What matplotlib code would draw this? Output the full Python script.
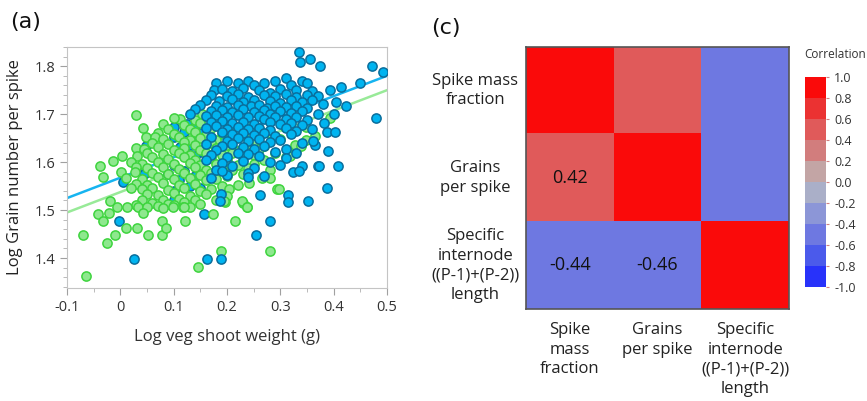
import matplotlib
matplotlib.use('Agg')
import matplotlib.pyplot as plt
import numpy as np
from matplotlib.colors import ListedColormap, BoundaryNorm
from matplotlib.ticker import MultipleLocator
import matplotlib.cm as cm

plt.rcParams['font.family'] = ['Open Sans', 'DejaVu Sans']

# (a) scatter: log veg shoot weight vs log grain number per spike
blue_pts = [
    (0.18, 1.765), (0.20, 1.77), (0.22, 1.765), (0.24, 1.77), (0.25, 1.76), (0.27, 1.765), (0.29, 1.77),
    (0.31, 1.775), (0.32, 1.76), (0.34, 1.77), (0.35, 1.765),
    (0.175, 1.75), (0.19, 1.752), (0.21, 1.748), (0.23, 1.755), (0.26, 1.75), (0.28, 1.745), (0.30, 1.752),
    (0.33, 1.75), (0.36, 1.748),
    (0.17, 1.74), (0.20, 1.738), (0.22, 1.742), (0.24, 1.735), (0.27, 1.74), (0.29, 1.737), (0.31, 1.742),
    (0.33, 1.735), (0.35, 1.74), (0.37, 1.738),
    (0.16, 1.73), (0.185, 1.728), (0.21, 1.732), (0.23, 1.725), (0.25, 1.73), (0.28, 1.728), (0.30, 1.724),
    (0.32, 1.73), (0.34, 1.726), (0.36, 1.73), (0.38, 1.722),
    (0.15, 1.72), (0.18, 1.718), (0.20, 1.715), (0.22, 1.72), (0.245, 1.716), (0.26, 1.72), (0.275, 1.712),
    (0.29, 1.718), (0.31, 1.714), (0.33, 1.718), (0.35, 1.712),
    (0.14, 1.71), (0.17, 1.706), (0.19, 1.708), (0.21, 1.704), (0.23, 1.71), (0.25, 1.705), (0.27, 1.708),
    (0.28, 1.70), (0.30, 1.706), (0.32, 1.702), (0.34, 1.707), (0.37, 1.70),
    (0.13, 1.70), (0.16, 1.696), (0.18, 1.698), (0.20, 1.694), (0.22, 1.699), (0.24, 1.693), (0.26, 1.697),
    (0.27, 1.69), (0.29, 1.695), (0.31, 1.69), (0.33, 1.694), (0.35, 1.688),
    (0.125, 1.68), (0.15, 1.685), (0.17, 1.683), (0.19, 1.686), (0.21, 1.682), (0.23, 1.684), (0.25, 1.68),
    (0.28, 1.684), (0.30, 1.679), (0.32, 1.682), (0.34, 1.678),
    (0.10, 1.673), (0.14, 1.675), (0.16, 1.672), (0.18, 1.676), (0.20, 1.67), (0.22, 1.674), (0.24, 1.668),
    (0.26, 1.672), (0.28, 1.667), (0.31, 1.671), (0.33, 1.665), (0.36, 1.668),
    (0.12, 1.662), (0.15, 1.66), (0.19, 1.663), (0.21, 1.658), (0.23, 1.661), (0.25, 1.656),
    (0.27, 1.66), (0.29, 1.655), (0.32, 1.658),
    (0.10, 1.652), (0.14, 1.648), (0.17, 1.652), (0.20, 1.645), (0.22, 1.65), (0.24, 1.644),
    (0.26, 1.648), (0.28, 1.642), (0.30, 1.646), (0.34, 1.64),
    (0.112, 1.631), (0.13, 1.636), (0.16, 1.638), (0.19, 1.634), (0.21, 1.637), (0.23, 1.632), (0.25, 1.628),
    (0.27, 1.633), (0.31, 1.628),
    (0.048, 1.633), (0.12, 1.628), (0.15, 1.622), (0.18, 1.625), (0.22, 1.62), (0.24, 1.616),
    (0.29, 1.622), (0.33, 1.618),
    (0.14, 1.612), (0.17, 1.615), (0.20, 1.61), (0.26, 1.612), (0.31, 1.608),
    (0.134, 1.604), (0.16, 1.605), (0.19, 1.598), (0.23, 1.602), (0.28, 1.60),
    (0.10, 1.594), (0.15, 1.59), (0.21, 1.592), (0.25, 1.588), (0.30, 1.595),
    (0.12, 1.582), (0.18, 1.584), (0.24, 1.578),
    (0.09, 1.575), (0.14, 1.572), (0.20, 1.574), (0.27, 1.57),
    (0.11, 1.562), (0.17, 1.566),
    (0.13, 1.55), (0.10, 1.54), (0.15, 1.545),
    # scattered points
    (0.335, 1.829), (0.337, 1.808), (0.356, 1.815), (0.374, 1.80), (0.472, 1.80), (0.493, 1.787),
    (0.449, 1.764), (0.414, 1.756), (0.393, 1.75), (0.479, 1.692), (0.423, 1.717), (0.404, 1.725),
    (0.401, 1.70), (0.382, 1.681), (0.388, 1.662), (0.403, 1.662), (0.365, 1.635), (0.389, 1.623),
    (0.362, 1.645), (0.371, 1.592), (0.408, 1.592), (0.340, 1.592), (0.324, 1.579), (0.387, 1.546),
    (0.314, 1.531), (0.314, 1.517), (0.352, 1.519), (0.335, 1.581), (0.373, 1.592), (0.262, 1.531),
    (0.281, 1.478), (0.254, 1.448), (0.163, 1.398), (0.188, 1.398), (0.157, 1.492), (0.239, 1.569),
    (0.189, 1.533), (0.190, 1.581), (0.187, 1.519), (0.026, 1.398), (-0.002, 1.478), (0.005, 1.558),
    (0.10, 1.52), (0.045, 1.575),
]

green_pts = [
    (0.029, 1.699), (0.043, 1.671), (0.153, 1.70), (0.112, 1.69), (0.10, 1.692), (0.14, 1.688), (0.18, 1.69),
    (0.08, 1.68), (0.12, 1.678), (0.15, 1.682), (0.20, 1.679), (0.24, 1.68),
    (0.09, 1.67), (0.13, 1.668), (0.17, 1.672), (0.22, 1.668), (0.26, 1.67),
    (0.07, 1.66), (0.10, 1.658), (0.14, 1.662), (0.16, 1.657), (0.19, 1.66), (0.23, 1.656), (0.28, 1.66),
    (0.048, 1.652), (0.065, 1.652), (0.08, 1.648), (0.11, 1.652), (0.13, 1.646), (0.15, 1.65), (0.18, 1.646),
    (0.21, 1.65), (0.25, 1.645), (0.30, 1.648),
    (0.06, 1.64), (0.09, 1.638), (0.12, 1.642), (0.14, 1.636), (0.17, 1.64), (0.20, 1.635), (0.24, 1.638),
    (0.27, 1.634),
    (0.03, 1.63), (0.045, 1.628), (0.07, 1.632), (0.10, 1.626), (0.12, 1.63), (0.15, 1.625), (0.18, 1.63),
    (0.22, 1.624), (0.26, 1.628), (0.33, 1.625),
    (0.05, 1.62), (0.08, 1.617), (0.11, 1.62), (0.13, 1.615), (0.16, 1.618), (0.19, 1.614), (0.21, 1.62),
    (0.25, 1.615), (0.29, 1.618),
    (0.003, 1.613), (0.031, 1.613), (0.06, 1.61), (0.09, 1.607), (0.12, 1.61), (0.14, 1.605), (0.17, 1.608),
    (0.20, 1.604), (0.23, 1.608), (0.27, 1.605), (0.31, 1.61),
    (-0.013, 1.602), (0.02, 1.60), (0.04, 1.597), (0.07, 1.60), (0.10, 1.596), (0.13, 1.598), (0.15, 1.594),
    (0.18, 1.597), (0.22, 1.593), (0.25, 1.596),
    (-0.038, 1.592), (0.03, 1.59), (0.05, 1.587), (0.08, 1.59), (0.11, 1.586), (0.14, 1.589), (0.16, 1.584),
    (0.19, 1.588), (0.21, 1.583), (0.24, 1.587), (0.28, 1.584),
    (0.001, 1.579), (0.027, 1.579), (0.06, 1.578), (0.09, 1.575), (0.12, 1.578), (0.15, 1.574), (0.17, 1.577),
    (0.20, 1.572), (0.23, 1.576),
    (-0.032, 1.569), (0.01, 1.567), (0.04, 1.565), (0.07, 1.568), (0.10, 1.564), (0.13, 1.566), (0.16, 1.562),
    (0.18, 1.565), (0.266, 1.567), (0.281, 1.567),
    (0.03, 1.555), (0.05, 1.553), (0.08, 1.556), (0.11, 1.552), (0.14, 1.555), (0.19, 1.55), (0.22, 1.553),
    (0.241, 1.556),
    (0.02, 1.545), (0.04, 1.543), (0.06, 1.546), (0.09, 1.542), (0.12, 1.545), (0.15, 1.54), (0.17, 1.544),
    (0.204, 1.544), (0.294, 1.544), (0.297, 1.544),
    (0.05, 1.533), (0.07, 1.531), (0.10, 1.535), (0.13, 1.53), (0.16, 1.533), (0.20, 1.53),
    (0.04, 1.522), (0.08, 1.52), (0.11, 1.524), (0.14, 1.52), (0.18, 1.522),
    (-0.02, 1.518), (0.06, 1.515), (0.09, 1.512), (0.12, 1.516), (0.15, 1.512), (0.196, 1.517), (0.23, 1.515),
    (0.03, 1.51), (0.07, 1.508), (0.10, 1.51), (0.13, 1.507), (0.194, 1.519), (0.228, 1.519),
    (-0.007, 1.506), (0.012, 1.506), (0.033, 1.506), (0.05, 1.506), (0.08, 1.505), (0.099, 1.506),
    (0.118, 1.506), (0.237, 1.506), (0.238, 1.506),
    # scattered points
    (-0.070, 1.448), (-0.064, 1.363), (-0.041, 1.492), (-0.033, 1.478), (-0.025, 1.431), (-0.021, 1.494),
    (-0.010, 1.448), (0.010, 1.462), (0.032, 1.462), (0.043, 1.494), (0.052, 1.448), (0.078, 1.448),
    (0.079, 1.478), (0.085, 1.462), (0.121, 1.478), (0.145, 1.381), (0.174, 1.492), (0.188, 1.415),
    (0.215, 1.478), (0.281, 1.415), (0.119, 1.506),
    (0.393, 1.692), (0.365, 1.654), (0.348, 1.646), (0.328, 1.635), (0.338, 1.634), (0.318, 1.613),
    (0.309, 1.673), (0.348, 1.673),
]

blue_x, blue_y = np.array(blue_pts).T
green_x, green_y = np.array(green_pts).T

fit_x = [-0.1, 0.5]
blue_fit = [1.525, 1.78]
green_fit = [1.495, 1.75]

# (c) correlation matrix
col_labels = ['Spike\nmass\nfraction', 'Grains\nper spike', 'Specific\ninternode\n((P-1)+(P-2))\nlength']
row_labels = ['Spike mass\nfraction', 'Grains\nper spike', 'Specific\ninternode\n((P-1)+(P-2))\nlength']
corr = np.array([[1.0, 0.42, -0.44],
                 [0.42, 1.0, -0.46],
                 [-0.44, -0.46, 1.0]])
bin_colors = ['#2832fa', '#4b5aeb', '#6e78e1', '#8c96d7', '#aaafc8',
              '#c3a5a5', '#d27d7d', '#e05a5a', '#eb3232', '#fa0a0a']
bounds = np.linspace(-1, 1, 11)

fig = plt.figure(figsize=(8.67, 4.01), dpi=100)

# ---- scatter panel
ax = fig.add_axes([0.0773, 0.2818, 0.3691, 0.601])
ax.plot(fit_x, blue_fit, color='#16b4f0', lw=1.8, zorder=1)
ax.plot(fit_x, green_fit, color='#98ea98', lw=1.8, zorder=1)
# blue points in the green-dominated lower-left sit underneath the green ones
under = (blue_x < 0.16) & (blue_y < 1.69)
bstyle = dict(s=44, facecolor='#00b4f0', edgecolor='#0a6e9c', linewidths=1.1)
ax.scatter(blue_x[under], blue_y[under], zorder=2, **bstyle)
ax.scatter(green_x, green_y, s=44, facecolor='#8ee88e', edgecolor='#3ed43e', linewidths=1.1, zorder=3)
ax.scatter(blue_x[~under], blue_y[~under], zorder=4, **bstyle)
ax.set_xlim(-0.1, 0.5)
ax.set_ylim(1.3375, 1.84)
ax.set_xticks(np.round(np.arange(-0.1, 0.51, 0.1), 1))
ax.set_xticklabels(['-0.1', '0', '0.1', '0.2', '0.3', '0.4', '0.5'])
ax.set_yticks([1.4, 1.5, 1.6, 1.7, 1.8])
ax.xaxis.set_minor_locator(MultipleLocator(0.05))
ax.yaxis.set_minor_locator(MultipleLocator(0.02))
for s in ax.spines.values():
    s.set_color('#c4c4c4')
ax.tick_params(which='major', length=5, color='#a0a0a0', labelsize=10.5, labelcolor='#333333')
ax.tick_params(which='minor', length=3, color='#b0b0b0')
ax.set_xlabel('Log veg shoot weight (g)', fontsize=12, color='#333333', labelpad=10)
ax.set_ylabel('Log Grain number per spike', fontsize=12, color='#222222', labelpad=8)
fig.text(0.012, 0.93, '(a)', fontsize=16, color='#111111', family='DejaVu Sans')

# ---- heatmap panel
cmap = ListedColormap(bin_colors)
norm = BoundaryNorm(bounds, cmap.N)
hx = fig.add_axes([0.6067, 0.2294, 0.3033, 0.6534])
hx.imshow(corr, cmap=cmap, norm=norm, extent=[0, 3, 3, 0], aspect='auto')
hx.set_xlim(0, 3)
hx.set_ylim(3, 0)
hx.set_xticks([])
hx.set_yticks([])
for s in hx.spines.values():
    s.set_color('#555555')
    s.set_linewidth(1.2)
for i in range(3):
    for j in range(i):
        hx.text(j + 0.5, i + 0.5, f'{corr[i, j]:.2f}', ha='center', va='center',
                fontsize=13, color='#111111')
for i, lab in enumerate(row_labels):
    hx.text(-0.58, i + 0.5, lab, ha='center', va='center', fontsize=12,
            color='#222222', linespacing=1.3)
for j, lab in enumerate(col_labels):
    hx.text(j + 0.5, 3.15, lab, ha='center', va='top', fontsize=12,
            color='#222222', linespacing=1.3, clip_on=False)
fig.text(0.497, 0.915, '(c)', fontsize=16, color='#111111', family='DejaVu Sans')

# ---- colorbar
cax = fig.add_axes([0.9285, 0.2843, 0.0242, 0.5237])
sm = cm.ScalarMappable(norm=norm, cmap=cmap)
cb = fig.colorbar(sm, cax=cax, ticks=bounds)
cb.outline.set_visible(False)
cb.ax.set_yticklabels([f'{b:.1f}' for b in bounds])
cb.ax.tick_params(length=2, color='#d08080', labelsize=9, labelcolor='#333333', pad=4)
fig.text(0.928, 0.855, 'Correlation', fontsize=8.5, color='#333333')

fig.savefig('out.png', dpi=100)
